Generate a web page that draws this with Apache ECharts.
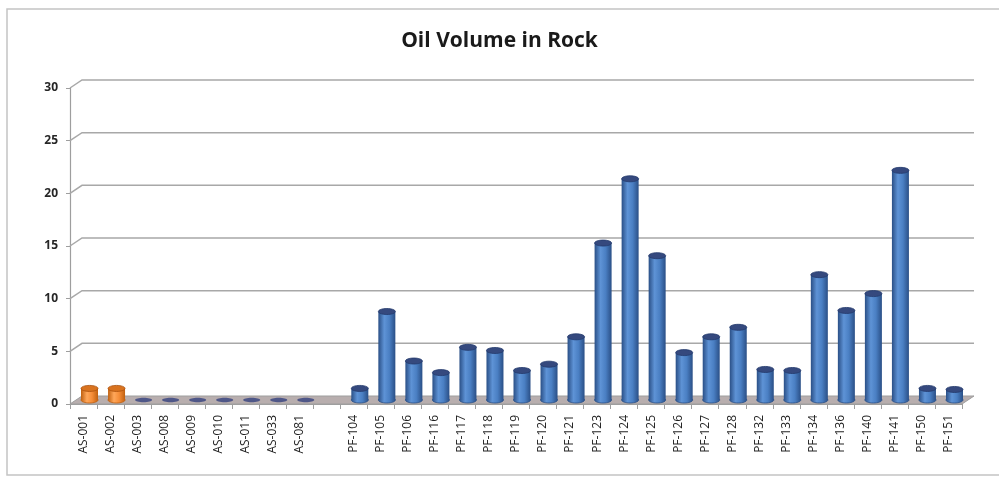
<!DOCTYPE html>
<html>
<head>
<meta charset="utf-8">
<title>Oil Volume in Rock</title>
<script src="https://cdn.jsdelivr.net/npm/echarts@6/dist/echarts.min.js"></script>
<style>
  html, body { margin: 0; padding: 0; background: #fff; }
  #chart { width: 999px; height: 480px; }
</style>
</head>
<body>
<div id="chart"></div>
<script>
// 数据
var asNames = ['AS-001', 'AS-002', 'AS-003', 'AS-008', 'AS-009', 'AS-010', 'AS-011', 'AS-033', 'AS-081'];
var asValues = [1.1, 1.1, 0, 0, 0, 0, 0, 0, 0];
var pfNames = ['PF-104', 'PF-105', 'PF-106', 'PF-116', 'PF-117', 'PF-118', 'PF-119', 'PF-120', 'PF-121',
  'PF-123', 'PF-124', 'PF-125', 'PF-126', 'PF-127', 'PF-128', 'PF-132', 'PF-133', 'PF-134',
  'PF-136', 'PF-140', 'PF-141', 'PF-150', 'PF-151'];
var pfValues = [1.1, 8.4, 3.7, 2.6, 5.0, 4.7, 2.8, 3.4, 6.0,
  14.9, 21.0, 13.7, 4.5, 6.0, 6.9, 2.9, 2.8, 11.9,
  8.5, 10.1, 21.8, 1.1, 1.0];
var yTicks = [0, 5, 10, 15, 20, 25, 30];

// 类目: AS 组, 空一格, PF 组
var categories = asNames.concat(['']).concat(pfNames);
var pfStart = asNames.length + 1;

var asData = asValues.map(function (v, i) { return [i, v]; });
var pfData = pfValues.map(function (v, i) { return [pfStart + i, v]; });

// 3D 纵深偏移
var DEPTH_X = 12, DEPTH_Y = -8;

function cylinder(colors) {
  return function (params, api) {
    var idx = api.value(0);
    var top = api.coord([idx, api.value(1)]);
    var base = api.coord([idx, 0]);
    var cx = top[0] + DEPTH_X / 2;
    var ty = top[1] + DEPTH_Y / 2;
    var by = base[1] + DEPTH_Y / 2;
    var rx = 8.5, ry = 3;
    if (api.value(1) <= 0) {
      return {
        type: 'ellipse',
        shape: { cx: cx, cy: by, rx: rx, ry: ry - 0.8 },
        style: { fill: colors.flat }
      };
    }
    var grad = new echarts.graphic.LinearGradient(0, 0, 1, 0, [
      { offset: 0, color: colors.edge },
      { offset: 0.35, color: colors.light },
      { offset: 0.65, color: colors.mid },
      { offset: 1, color: colors.edge }
    ]);
    return {
      type: 'group',
      children: [
        {
          type: 'ellipse',
          shape: { cx: cx, cy: by, rx: rx, ry: ry },
          style: { fill: grad, stroke: colors.edge, lineWidth: 0.8 }
        },
        {
          type: 'rect',
          shape: { x: cx - rx, y: ty, width: rx * 2, height: by - ty },
          style: { fill: grad }
        },
        {
          type: 'ellipse',
          shape: { cx: cx, cy: ty, rx: rx, ry: ry },
          style: { fill: colors.top, stroke: colors.rim, lineWidth: 0.8 }
        }
      ]
    };
  };
}

var chart = echarts.init(document.getElementById('chart'));
var option = {
  animation: false,
  backgroundColor: '#ffffff',
  title: {
    text: 'Oil Volume in Rock',
    left: 'center',
    top: 26,
    textStyle: {
      fontFamily: 'Open Sans',
      fontSize: 21,
      fontWeight: 'bold',
      color: '#1a1a1a'
    }
  },
  graphic: [
    {
      type: 'rect',
      shape: { x: 7, y: 9, width: 1000, height: 466 },
      style: { fill: 'none', stroke: '#c4c4c4', lineWidth: 1.5 },
      silent: true
    }
  ],
  grid: {
    left: 70,
    right: 37,
    top: 88,
    bottom: 76
  },
  xAxis: {
    type: 'category',
    data: categories,
    axisLine: { show: true, lineStyle: { color: '#9e9e9e', width: 1.2 } },
    axisTick: { show: true, length: 5, lineStyle: { color: '#9e9e9e' } },
    axisLabel: {
      interval: 0,
      rotate: 90,
      margin: 11,
      fontFamily: 'Open Sans',
      fontSize: 12,
      color: '#1f1f1f'
    }
  },
  yAxis: {
    type: 'value',
    min: 0,
    max: 30,
    interval: 5,
    axisLine: { show: true, lineStyle: { color: '#9e9e9e', width: 1.2 } },
    axisTick: { show: true, length: 4, lineStyle: { color: '#9e9e9e' } },
    axisLabel: {
      margin: 12,
      fontFamily: 'Open Sans',
      fontSize: 12,
      fontWeight: 'bold',
      color: '#262626'
    },
    splitLine: { show: false }
  },
  series: [
    {
      // 背景墙网格线和地板
      name: 'wall',
      type: 'custom',
      silent: true,
      z: 1,
      data: yTicks.map(function (v) { return [0, v]; }),
      renderItem: function (params, api) {
        var cs = params.coordSys;
        var x0 = cs.x, x1 = cs.x + cs.width;
        var y = api.coord([0, api.value(1)])[1];
        if (api.value(1) === 0) {
          return {
            type: 'polygon',
            shape: {
              points: [[x0, y], [x0 + DEPTH_X, y + DEPTH_Y], [x1 + DEPTH_X, y + DEPTH_Y], [x1, y]]
            },
            style: { fill: '#b8aeae', stroke: '#9e9e9e', lineWidth: 1 }
          };
        }
        return {
          type: 'polyline',
          shape: {
            points: [[x0, y], [x0 + DEPTH_X, y + DEPTH_Y], [x1 + DEPTH_X, y + DEPTH_Y]]
          },
          style: { fill: null, stroke: '#a8a8a8', lineWidth: 1.5 }
        };
      }
    },
    {
      name: 'AS',
      type: 'custom',
      z: 3,
      data: asData,
      encode: { x: 0, y: 1 },
      renderItem: cylinder({
        edge: '#c0600f', light: '#ffa75a', mid: '#f58d38',
        top: '#d9731f', rim: '#a84f0c', flat: '#4f5788'
      })
    },
    {
      name: 'PF',
      type: 'custom',
      z: 3,
      data: pfData,
      encode: { x: 0, y: 1 },
      renderItem: cylinder({
        edge: '#2a4f86', light: '#5e93d6', mid: '#4a7fc3',
        top: '#35497e', rim: '#233a6c', flat: '#4f5788'
      })
    }
  ]
};
chart.setOption(option);
window.addEventListener('resize', function () { chart.resize(); });
</script>
</body>
</html>
